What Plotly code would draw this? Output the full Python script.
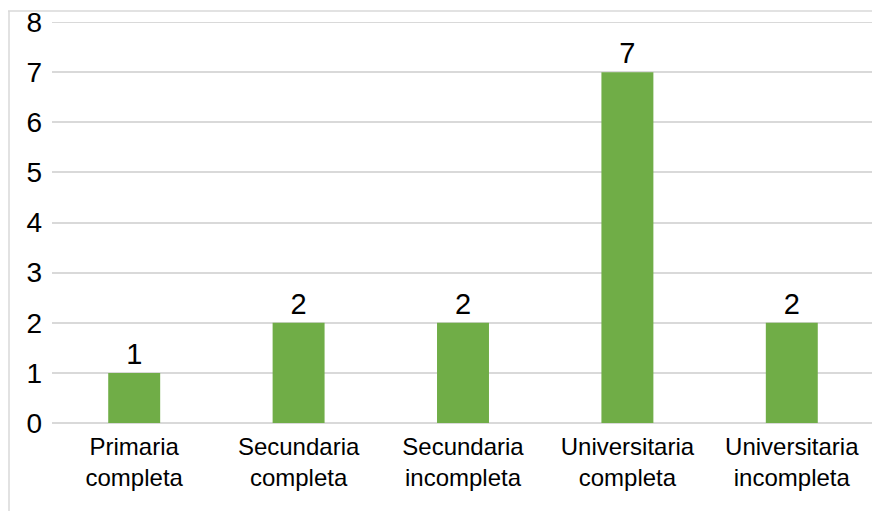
import plotly.graph_objects as go

categories = ["Primaria<br>completa", "Secundaria<br>completa", "Secundaria<br>incompleta",
              "Universitaria<br>completa", "Universitaria<br>incompleta"]
values = [1, 2, 2, 7, 2]
y_ticks = [0, 1, 2, 3, 4, 5, 6, 7, 8]

# page body has an 8px margin, so the figure is drawn at (8, 8)
W, H = 872, 503
L, R, T, B = 44, 6, 14, 88

fig = go.Figure(go.Bar(
    x=categories, y=values,
    marker=dict(color="#70ad47", line=dict(width=0)),
    text=[str(v) for v in values], textposition="outside",
    textfont=dict(size=29, color="#000000", family="Liberation Sans, Arial, sans-serif"),
    cliponaxis=False,
))

pw = W - L - R
ph = H - T - B
fig.add_shape(type="line", xref="paper", yref="paper",
              x0=(0 - L) / pw, x1=(W - L) / pw, y0=(H - B - 3) / ph, y1=(H - B - 3) / ph,
              line=dict(color="#d9d9d9", width=1.5))
fig.add_shape(type="line", xref="paper", yref="paper",
              x0=(1 - L) / pw, x1=(1 - L) / pw, y0=(H - B - 3) / ph, y1=-(B + 5) / ph,
              line=dict(color="#d9d9d9", width=1.5))
# top gridline at the axis maximum
fig.add_shape(type="line", xref="paper", yref="y",
              x0=0, x1=1, y0=y_ticks[-1], y1=y_ticks[-1],
              line=dict(color="#d9d9d9", width=1.5), layer="below")

fig.update_layout(
    width=W, height=H,
    margin=dict(l=L, r=R, t=T, b=B, autoexpand=False),
    plot_bgcolor="white", paper_bgcolor="white",
    bargap=0.684,
    showlegend=False,
    font=dict(family="Liberation Sans, Arial, sans-serif", color="#000000"),
)
fig.update_xaxes(
    tickfont=dict(size=24, color="#000000"),
    showline=False, showgrid=False, ticks="", automargin=False,
    ticklabelstandoff=7,
)
fig.update_yaxes(
    range=[0, 8.003], tickvals=y_ticks, ticktext=[str(v) for v in y_ticks],
    tickfont=dict(size=28, color="#000000"),
    showgrid=True, gridcolor="#d9d9d9", gridwidth=1.5,
    zeroline=True, zerolinecolor="#d9d9d9", zerolinewidth=1.5,
    showline=False, ticks="", ticklabelstandoff=9, automargin=False,
    ticklabeloverflow="allow",
)

fig.write_html("out.html")
